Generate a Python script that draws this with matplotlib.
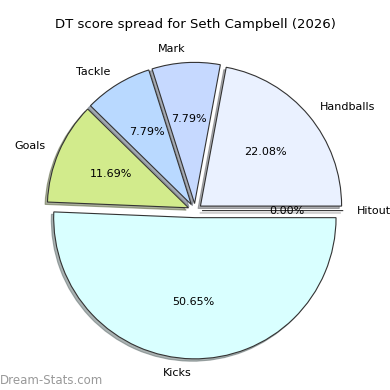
import matplotlib
matplotlib.use("Agg")
import matplotlib.pyplot as plt

labels = ["Hitout", "Handballs", "Mark", "Tackle", "Goals", "Kicks"]
values = [0, 17, 6, 6, 9, 39]
colors = ["#f0f0f0", "#eaf1ff", "#c6d9ff", "#b9d9ff", "#d2eb8c", "#d9ffff"]

fig = plt.figure(figsize=(3.9, 3.9), dpi=100)
ax = fig.add_axes([0.0475, 0.0075, 0.905, 0.905])
wedges, texts, autotexts = ax.pie(
    values, labels=labels, colors=colors, autopct="%1.2f%%",
    explode=[0.05] * len(values),
    shadow=dict(ox=-0.012, oy=-0.012, shade=0.6), startangle=0,
    wedgeprops=dict(edgecolor="#333333", linewidth=0.8),
    textprops=dict(fontsize=8))
ax.set_aspect("equal")
fig.suptitle("DT score spread for Seth Campbell (2026)", fontsize=9.5, y=0.955)
fig.text(0.0, 0.015, "Dream-Stats.com", fontsize=8.5, color="#999999", ha="left")
fig.savefig("out.png", dpi=100)
